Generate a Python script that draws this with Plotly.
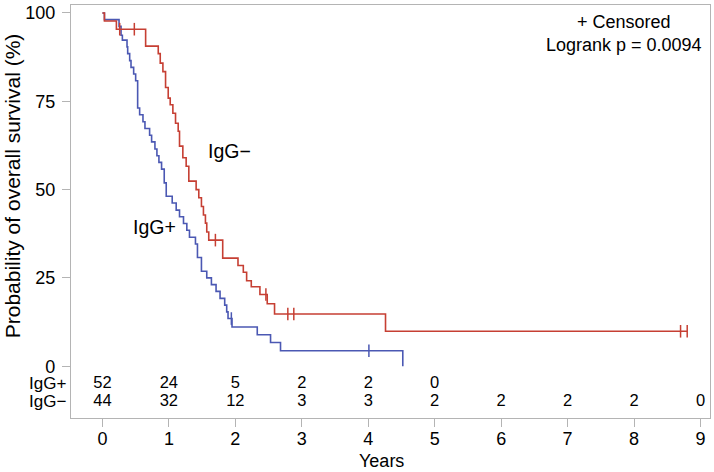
import plotly.graph_objects as go

# ---- data ----
neg_times = [0, 0.03, 0.21, 0.65, 0.84, 0.87, 0.91, 0.95, 0.99, 1.02, 1.06, 1.10, 1.14, 1.16,
             1.21, 1.26, 1.30, 1.41, 1.45, 1.49, 1.52, 1.55, 1.57, 1.60, 1.81, 2.04, 2.12,
             2.17, 2.24, 2.37, 2.48, 2.59, 4.26, 8.80]
neg_surv = [100, 97.7, 95.4, 90.6, 88.5, 85.8, 83.4, 78.9, 75.9, 74.0, 71.6, 68.8, 66.5, 62.3,
            59.0, 56.6, 52.4, 50.0, 47.7, 45.2, 42.8, 40.5, 38.0, 35.7, 30.6, 28.5, 26.6,
            24.2, 22.5, 20.3, 17.7, 14.8, 9.9, 9.9]
neg_cens_t = [0.26, 0.48, 1.70, 2.46, 2.79, 2.88, 8.70, 8.80]
neg_cens_s = [95.4, 95.4, 35.7, 20.3, 14.8, 14.8, 9.9, 9.9]

pos_times = [0, 0.03, 0.25, 0.28, 0.30, 0.37, 0.38, 0.41, 0.43, 0.47, 0.50, 0.53, 0.56, 0.61,
             0.64, 0.71, 0.74, 0.79, 0.82, 0.85, 0.89, 0.93, 0.96, 1.05, 1.11, 1.16, 1.22,
             1.27, 1.31, 1.40, 1.43, 1.49, 1.57, 1.64, 1.71, 1.77, 1.84, 1.87, 1.89, 1.95,
             2.33, 2.53, 2.68, 4.52]
pos_surv = [100, 98.1, 96.2, 93.7, 92.3, 90.4, 88.5, 86.5, 84.6, 82.7, 80.8, 73.1, 71.2, 69.2,
            67.3, 65.4, 63.5, 61.5, 59.6, 57.7, 55.8, 51.9, 48.1, 46.2, 44.2, 42.3, 40.4,
            38.5, 36.5, 34.6, 30.8, 26.9, 25.0, 23.1, 21.2, 19.2, 17.3, 15.4, 13.5, 11.1,
            8.9, 6.7, 4.4, 0]
pos_cens_t = [1.94, 4.01]
pos_cens_s = [13.5, 4.4]

risk_years = [0, 1, 2, 3, 4, 5, 6, 7, 8, 9]
risk_pos = [52, 24, 5, 2, 2, 0]
risk_neg = [44, 32, 12, 3, 3, 2, 2, 2, 2, 0]
y_ticks = [0, 25, 50, 75, 100]

RED = "#c63f33"
BLUE = "#4b58b3"
FONT = "Liberation Sans, Arial, sans-serif"
GREY = "#b4b4b4"
FS = 18
FR = 16.5
ROW_POS = -4.9
ROW_NEG = -10.1

fig = go.Figure()
fig.add_trace(go.Scatter(x=pos_times, y=pos_surv, mode="lines", line=dict(color=BLUE, width=1.6, shape="hv"),
                         hoverinfo="skip"))
fig.add_trace(go.Scatter(x=neg_times, y=neg_surv, mode="lines", line=dict(color=RED, width=1.6, shape="hv"),
                         hoverinfo="skip"))
fig.add_trace(go.Scatter(x=pos_cens_t, y=pos_cens_s, mode="markers",
                         marker=dict(symbol="line-ns", size=9, line=dict(color=BLUE, width=1.5))))
fig.add_trace(go.Scatter(x=neg_cens_t, y=neg_cens_s, mode="markers",
                         marker=dict(symbol="line-ns", size=9, line=dict(color=RED, width=1.5))))
fig.add_trace(go.Scatter(x=risk_years[:len(risk_pos)], y=[ROW_POS] * len(risk_pos), mode="text",
                         text=[str(v) for v in risk_pos], textfont=dict(size=FR, color="black", family=FONT)))
fig.add_trace(go.Scatter(x=risk_years[:len(risk_neg)], y=[ROW_NEG] * len(risk_neg), mode="text",
                         text=[str(v) for v in risk_neg], textfont=dict(size=FR, color="black", family=FONT)))

ann = []
ann.append(dict(x=1.91, y=61, xref="x", yref="y", text="IgG−", showarrow=False,
                font=dict(size=19.5, color="black", family=FONT)))
ann.append(dict(x=0.79, y=39.5, xref="x", yref="y", text="IgG+", showarrow=False,
                font=dict(size=19.5, color="black", family=FONT)))
ann.append(dict(x=7.85, y=97.5, xref="x", yref="y", text="+ Censored", showarrow=False,
                font=dict(size=FS, color="black", family=FONT)))
ann.append(dict(x=7.85, y=90.8, xref="x", yref="y", text="Logrank p = 0.0094", showarrow=False,
                font=dict(size=FS, color="black", family=FONT)))
ann.append(dict(x=0, y=ROW_POS, xref="paper", yref="y", text="IgG+", showarrow=False, xanchor="right", xshift=-3,
                font=dict(size=FR + 0.5, color="black", family=FONT)))
ann.append(dict(x=0, y=ROW_NEG, xref="paper", yref="y", text="IgG−", showarrow=False, xanchor="right", xshift=-3,
                font=dict(size=FR + 0.5, color="black", family=FONT)))
ann.append(dict(x=-0.092, y=51, xref="paper", yref="y", text="Probability of overall survival (%)",
                textangle=-90, showarrow=False, xanchor="center",
                font=dict(size=21, color="black", family=FONT)))
ann.append(dict(x=4.2, y=0, xref="x", yref="paper", text="Years", showarrow=False, yanchor="top", yshift=-31,
                font=dict(size=FS, color="black", family=FONT)))

fig.update_layout(
    width=714, height=472,
    margin=dict(l=71, r=3, t=3, b=54),
    paper_bgcolor="white", plot_bgcolor="white",
    showlegend=False,
    annotations=ann,
    font=dict(family=FONT, size=FS, color="black"),
    xaxis=dict(range=[-0.473, 9.143], tickvals=risk_years, ticks="outside", ticklen=8, tickcolor=GREY,
               showline=True, linecolor=GREY, linewidth=1.2, mirror=True, showgrid=False, zeroline=False,
               ticklabelstandoff=-4, tickfont=dict(size=FS, family=FONT, color="black")),
    yaxis=dict(range=[-14.65, 102.25], tickvals=y_ticks, ticks="outside", ticklen=8, tickcolor=GREY,
               showline=True, linecolor=GREY, linewidth=1.2, mirror=True, showgrid=False, zeroline=False,
               ticklabelstandoff=3, tickfont=dict(size=FS, family=FONT, color="black")),
)

fig.write_html("out.html", config={"displayModeBar": False},
               post_script="document.body.style.margin='0';document.body.style.padding='0';")
